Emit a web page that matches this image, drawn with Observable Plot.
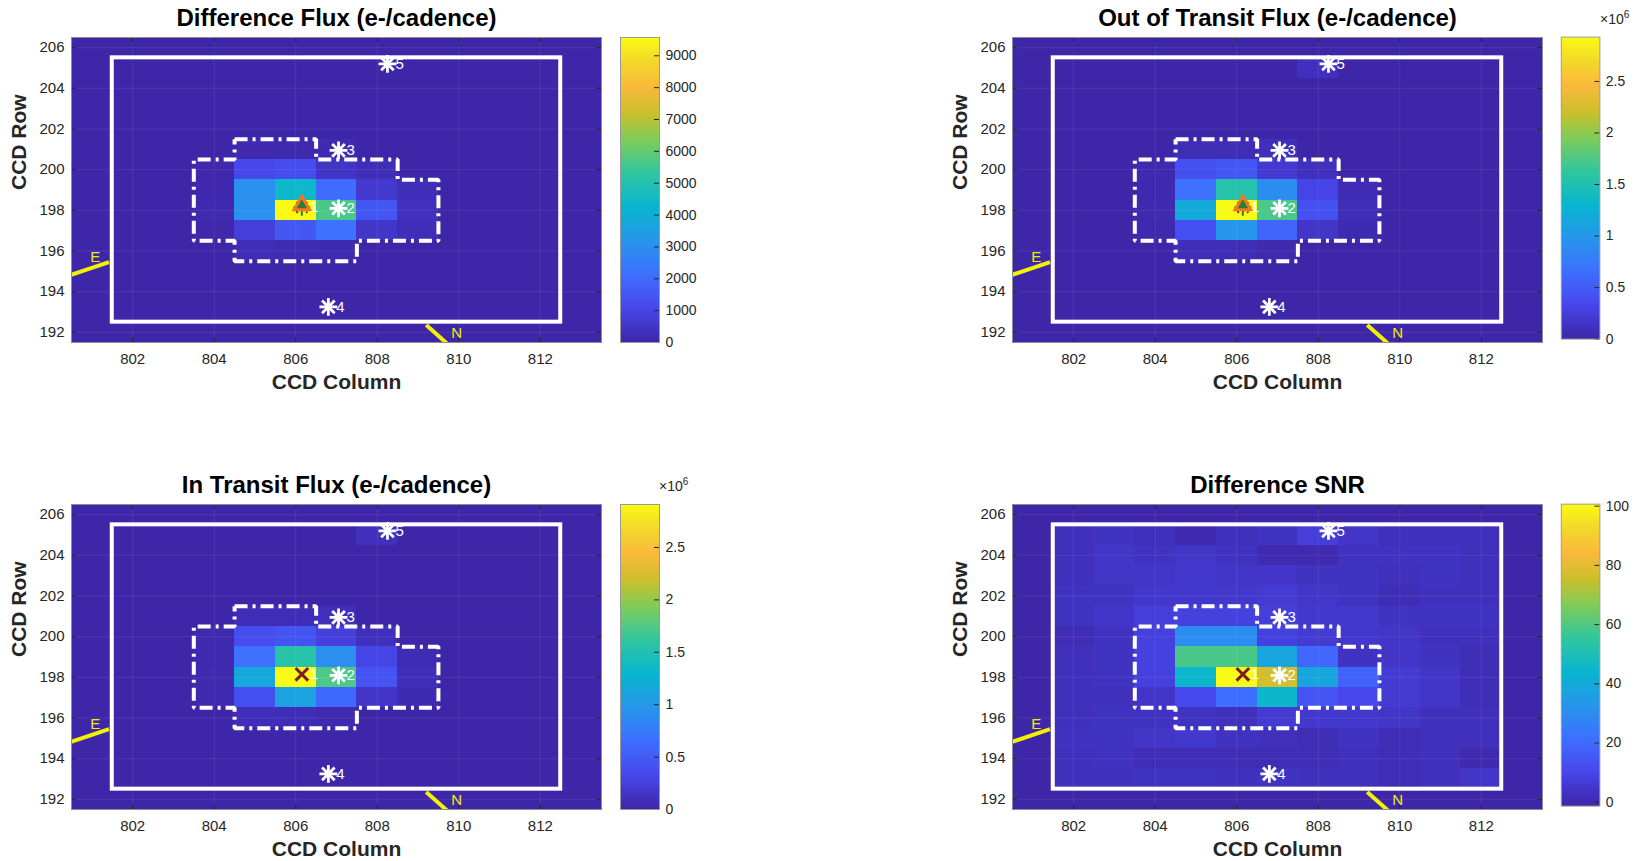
<!DOCTYPE html>
<html><head><meta charset="utf-8">
<script src="https://cdn.jsdelivr.net/npm/d3@7"></script>
<script src="https://cdn.jsdelivr.net/npm/@observablehq/plot@0.6"></script>
<style>
body{margin:0;background:#fff;}
#root{position:relative;width:1640px;height:861px;overflow:hidden;font-family:"Liberation Sans",Arial,Helvetica,sans-serif;}
#root > div{position:absolute;}
.exp{font-size:14px;color:#262626;}
.exp sup{font-size:10px;}
</style></head><body><div id="root"></div>
<script>
// ---------- data ----------
const cols = [801, 802, 803, 804, 805, 806, 807, 808, 809, 810, 811, 812, 813];
const rows = [206, 205, 204, 203, 202, 201, 200, 199, 198, 197, 196, 195, 194, 193, 192];
const xTicks = [802, 804, 806, 808, 810, 812];
const yTicks = [192, 194, 196, 198, 200, 202, 204, 206];

// Difference flux (e-/cadence), rows 206..192, cols 801..813
const diffFlux = [
  [0,0,0,0,0,0,0,0,0,0,0,0,0],
  [0,0,0,0,0,0,0,0,0,0,0,0,0],
  [0,0,0,0,0,0,0,0,0,0,0,0,0],
  [0,0,0,0,0,0,0,0,0,0,0,0,0],
  [0,0,0,0,0,0,0,0,0,0,0,0,0],
  [0,0,0,0,120,100,150,0,0,0,0,0,0],
  [0,0,0,60,1100,1200,450,250,0,0,0,0,0],
  [0,0,0,80,3000,4400,2050,600,250,0,0,0,0],
  [0,0,0,100,3050,9574,5650,1450,350,0,0,0,0],
  [0,0,0,60,800,1500,2200,500,250,0,0,0,0],
  [0,0,0,0,200,180,150,0,0,0,0,0,0],
  [0,0,0,0,0,0,0,0,0,0,0,0,0],
  [0,0,0,0,0,0,0,0,0,0,0,0,0],
  [0,0,0,0,0,0,0,0,0,0,0,0,0],
  [0,0,0,0,0,0,0,0,0,0,0,0,0]
];
// Out of transit flux (x10^6 e-/cadence)
const outFlux = [
  [0,0,0,0,0,0,0,0,0,0,0,0,0],
  [0,0,0,0,0,0,0,0.1,0,0,0,0,0],
  [0,0,0,0,0,0,0,0,0,0,0,0,0],
  [0,0,0,0,0,0,0,0,0,0,0,0,0],
  [0,0,0,0,0,0,0,0,0,0,0,0,0],
  [0,0,0,0,0.07,0.07,0.09,0,0,0,0,0,0],
  [0,0,0,0.03,0.38,0.45,0.2,0.1,0,0,0,0,0],
  [0,0,0,0.03,0.67,1.55,0.9,0.3,0.06,0,0,0,0],
  [0,0,0,0.04,1.17,2.93,1.73,0.4,0.08,0,0,0,0],
  [0,0,0,0.03,0.38,0.97,0.56,0.15,0.05,0,0,0,0],
  [0,0,0,0,0.08,0.07,0.04,0,0,0,0,0,0],
  [0,0,0,0,0,0,0,0,0,0,0,0,0],
  [0,0,0,0,0,0,0,0,0,0,0,0,0],
  [0,0,0,0,0,0,0,0,0,0,0,0,0],
  [0,0,0,0,0,0,0,0,0,0,0,0,0]
];
// In transit flux (x10^6 e-/cadence)
const inFlux = [
  [0,0,0,0,0,0,0,0,0,0,0,0,0],
  [0,0,0,0,0,0,0,0.1,0,0,0,0,0],
  [0,0,0,0,0,0,0,0,0,0,0,0,0],
  [0,0,0,0,0,0,0,0,0,0,0,0,0],
  [0,0,0,0,0,0,0,0,0,0,0,0,0],
  [0,0,0,0,0.07,0.07,0.09,0,0,0,0,0,0],
  [0,0,0,0.03,0.36,0.43,0.25,0.1,0,0,0,0,0],
  [0,0,0,0.03,0.66,1.55,0.9,0.3,0.06,0,0,0,0],
  [0,0,0,0.04,1.15,2.91,1.73,0.42,0.08,0,0,0,0],
  [0,0,0,0.03,0.38,1.1,0.6,0.15,0.05,0,0,0,0],
  [0,0,0,0,0.08,0.07,0.04,0,0,0,0,0,0],
  [0,0,0,0,0,0,0,0,0,0,0,0,0],
  [0,0,0,0,0,0,0,0,0,0,0,0,0],
  [0,0,0,0,0,0,0,0,0,0,0,0,0],
  [0,0,0,0,0,0,0,0,0,0,0,0,0]
];
// Difference SNR, rows 205..193, cols 802..812
const snrCols = [802, 803, 804, 805, 806, 807, 808, 809, 810, 811, 812];
const snrRows = [205, 204, 203, 202, 201, 200, 199, 198, 197, 196, 195, 194, 193];
const diffSnr = [
  [2,3,2,0,2,3,7,4,2,2,2],
  [2,4,3,4,3,0,0,3,3,3,2],
  [2,4,4,5,4,4,3,3,2,3,2],
  [3,3,5,5,5,6,4,3,1,2,2],
  [3,4,7,8,8,7,5,5,3,3,3],
  [1,3,8,30,30,8,6,5,4,2,2],
  [2,3,8,59,59,38,19,3,4,3,1],
  [2,3,8,45,100.7,77,38,18,6,4,1],
  [2,2,4,11,21,45,14,10,6,4,1],
  [2,3,3,3,2,6,5,5,4,2,2],
  [3,3,4,5,3,2,1,3,1,2,2],
  [2,3,1,1,1,1,1,2,1,2,0],
  [2,2,3,3,2,3,2,2,1,2,4]
];

// apertures (pixel-edge coordinates)
const maskX = [801.5, 812.5];
const maskY = [192.5, 205.5];
const apertureX = [804.5, 806.5, 806.5, 808.5, 808.5, 809.5, 809.5, 807.5, 807.5, 804.5, 804.5, 803.5, 803.5, 804.5, 804.5];
const apertureY = [201.5, 201.5, 200.5, 200.5, 199.5, 199.5, 196.5, 196.5, 195.5, 195.5, 196.5, 196.5, 200.5, 200.5, 201.5];

// stars
const starIds = [1, 2, 3, 4, 5];
const starCol = [806.15, 807.05, 807.05, 806.8, 808.25];
const starRow = [198.15, 198.1, 200.95, 193.25, 205.2];

// compass
const compassText = ["E", "N"];
const compassX1 = [800.3, 809.2];
const compassY1 = [194.7, 192.36];
const compassX2 = [801.42, 809.8];
const compassY2 = [195.45, 191.29];
const compassLabelX = [801.08, 809.95];
const compassLabelY = [195.7, 191.95];

// colour bars
const diffTicks = [0, 1000, 2000, 3000, 4000, 5000, 6000, 7000, 8000, 9000];
const fluxTicks = [0, 0.5, 1, 1.5, 2, 2.5];
const snrTicks = [0, 20, 40, 60, 80, 100];
const diffDomain = [0, 9574];
const outDomain = [0, 2.93];
const inDomain = [0, 2.91];
const snrDomain = [-1.3, 100.7];

const titles = ["Difference Flux (e-/cadence)", "Out of Transit Flux (e-/cadence)", "In Transit Flux (e-/cadence)", "Difference SNR"];

// ---------- parula colormap ----------
const parulaStops = [0, 0.111, 0.222, 0.333, 0.444, 0.556, 0.667, 0.75, 0.84, 0.92, 1];
const parulaColors = ["#3e26a8", "#4747eb", "#3e6fff", "#2796eb", "#08b5d0", "#31c69f", "#81cc59", "#cbbf2c", "#fbb93b", "#f3d82b", "#f9fb15"];
const parulaScale = d3.scaleLinear().domain(parulaStops).range(parulaColors).interpolate(d3.interpolateRgb).clamp(true);
const parula = t => parulaScale(t);

const FONT = '"Liberation Sans", Arial, Helvetica, sans-serif';
const W = 610, H = 400, mL = 71, mR = 9, mT = 37, mB = 58;
const PW = W - mL - mR, PH = H - mT - mB;

function flatten(grid, gc, gr) {
  const out = [];
  grid.forEach((row, i) => row.forEach((v, j) => out.push({c: gc[j], r: gr[i], v})));
  return out;
}

function panel({grid, gc, gr, domain, title, crossMarker}) {
  const cells = flatten(grid, gc, gr);
  const aperture = apertureX.map((x, i) => ({x, y: apertureY[i]}));
  const stars = starIds.map((id, i) => ({id: String(id), x: starCol[i], y: starRow[i]}));
  const compass = compassText.map((t, i) => ({t, x1: compassX1[i], y1: compassY1[i], x2: compassX2[i], y2: compassY2[i], lx: compassLabelX[i], ly: compassLabelY[i]}));
  const target = stars.slice(0, 1);
  const others = stars.slice(1);
  const markerMarks = crossMarker
    ? [Plot.dot(target, {x: "x", y: "y", symbol: "times", r: 5.8, stroke: "#7a1c22", strokeWidth: 3})]
    : [
        Plot.dot(target, {x: "x", y: "y", symbol: "times", r: 5, stroke: "#6e1a1a", strokeWidth: 2, strokeDasharray: "2,1.5"}),
        Plot.dot(target, {x: "x", y: "y", symbol: "plus", r: 5.5, stroke: "#2f7d32", strokeWidth: 2}),
        Plot.dot(target, {x: "x", y: "y", symbol: "triangle", r: 5.8, dy: -2, fill: "#2f7a36", stroke: "#f07a1e", strokeWidth: 3})
      ];
  return Plot.plot({
    width: W, height: H, marginLeft: mL, marginRight: mR, marginTop: mT, marginBottom: mB,
    x: {domain: [800.5, 813.5]},
    y: {domain: [191.5, 206.5]},
    color: {type: "linear", domain, interpolate: parula, clamp: true},
    style: {fontFamily: FONT, fontSize: "15px", color: "#262626", background: "transparent", overflow: "visible"},
    marks: [
      Plot.frame({fill: parula(0)}),
      Plot.rect(cells, {x1: d => d.c - 0.5, x2: d => d.c + 0.5, y1: d => d.r - 0.5, y2: d => d.r + 0.5, fill: "v", shapeRendering: "crispEdges"}),
      Plot.gridX(xTicks, {stroke: "#ffffff", strokeOpacity: 0.08}),
      Plot.gridY(yTicks, {stroke: "#ffffff", strokeOpacity: 0.08}),
      Plot.rect([0], {x1: () => maskX[0], x2: () => maskX[1], y1: () => maskY[0], y2: () => maskY[1], fill: "none", stroke: "white", strokeWidth: 4}),
      Plot.line(aperture, {x: "x", y: "y", stroke: "white", strokeWidth: 4, strokeDasharray: "13,5,3,5", strokeLinecap: "butt", strokeLinejoin: "miter"}),
      Plot.link(compass, {x1: "x1", y1: "y1", x2: "x2", y2: "y2", stroke: "#f2f200", strokeWidth: 4, clip: true}),
      Plot.text(compass, {x: "lx", y: "ly", text: "t", fill: "#eeee00", fontSize: 15}),
      Plot.dot(others, {x: "x", y: "y", symbol: "plus", r: 5.8, stroke: "white", strokeWidth: 2.8}),
      Plot.dot(others, {x: "x", y: "y", symbol: "times", r: 5.8, stroke: "white", strokeWidth: 2.8}),
      ...markerMarks,
      Plot.text(stars, {x: "x", y: "y", text: "id", dx: 8, textAnchor: "start", fill: "white", fontSize: 15}),
      Plot.ruleX(xTicks, {insetTop: PH - 5, stroke: "#262626"}),
      Plot.ruleX(xTicks, {insetBottom: PH - 5, stroke: "#262626"}),
      Plot.ruleY(yTicks, {insetRight: PW - 5, stroke: "#262626"}),
      Plot.ruleY(yTicks, {insetLeft: PW - 5, stroke: "#262626"}),
      Plot.frame({stroke: "#8a8a9a", strokeWidth: 1}),
      Plot.axisX(xTicks, {anchor: "bottom", tickSize: 0, tickPadding: 11, label: null, fontSize: 15}),
      Plot.axisY(yTicks, {anchor: "left", tickSize: 0, tickPadding: 7, label: null, fontSize: 15}),
      Plot.text([title], {text: d => d, frameAnchor: "top", lineAnchor: "middle", dy: -19, fontSize: 24, fontWeight: "bold", fill: "#000"}),
      Plot.text(["CCD Column"], {text: d => d, frameAnchor: "bottom", lineAnchor: "middle", dy: 40, fontSize: 21, fontWeight: "bold", fill: "#262626"}),
      Plot.text(["CCD Row"], {text: d => d, frameAnchor: "left", lineAnchor: "middle", dx: -52, rotate: -90, fontSize: 21, fontWeight: "bold", fill: "#262626"})
    ]
  });
}

function colorbar({domain, ticks}) {
  const CW = 100, cL = 20, cR = CW - cL - 39;
  return Plot.plot({
    width: CW, height: H, marginLeft: cL, marginRight: cR, marginTop: mT, marginBottom: mB,
    x: {domain: [0, 1], axis: null},
    y: {domain},
    color: {type: "linear", domain, interpolate: parula, clamp: true},
    style: {fontFamily: FONT, fontSize: "14px", color: "#262626", background: "transparent", overflow: "visible"},
    marks: [
      Plot.raster({fill: (x, y) => y, x1: 0, x2: 1, y1: domain[0], y2: domain[1], width: 2, height: 300}),
      Plot.ruleY(ticks, {insetLeft: 34, stroke: "#262626"}),
      Plot.frame({stroke: "#9a9a9a", strokeWidth: 1}),
      Plot.axisY(ticks, {anchor: "right", tickSize: 0, tickPadding: 6, label: null, tickFormat: d => String(d), fontSize: 14})
    ]
  });
}

const root = document.getElementById("root");
function place(node, left, top) {
  const wrap = document.createElement("div");
  wrap.style.left = left + "px";
  wrap.style.top = top + "px";
  wrap.appendChild(node);
  root.appendChild(wrap);
  return wrap;
}

const specs = [
  {grid: diffFlux, gc: cols, gr: rows, domain: diffDomain, ticks: diffTicks, title: titles[0], crossMarker: false, left: 0, top: 0, exp: false},
  {grid: outFlux, gc: cols, gr: rows, domain: outDomain, ticks: fluxTicks, title: titles[1], crossMarker: false, left: 941, top: 0, exp: true},
  {grid: inFlux, gc: cols, gr: rows, domain: inDomain, ticks: fluxTicks, title: titles[2], crossMarker: true, left: 0, top: 467, exp: true},
  {grid: diffSnr, gc: snrCols, gr: snrRows, domain: snrDomain, ticks: snrTicks, title: titles[3], crossMarker: true, left: 941, top: 467, exp: false}
];

for (const s of specs) {
  place(panel(s), s.left, s.top);
  place(colorbar(s), s.left + 600, s.top);
  if (s.exp) {
    const e = document.createElement("span");
    e.className = "exp";
    e.innerHTML = "&times;10<sup>6</sup>";
    place(e, s.left + 659, s.top + 9);
  }
}
</script>
</body></html>
